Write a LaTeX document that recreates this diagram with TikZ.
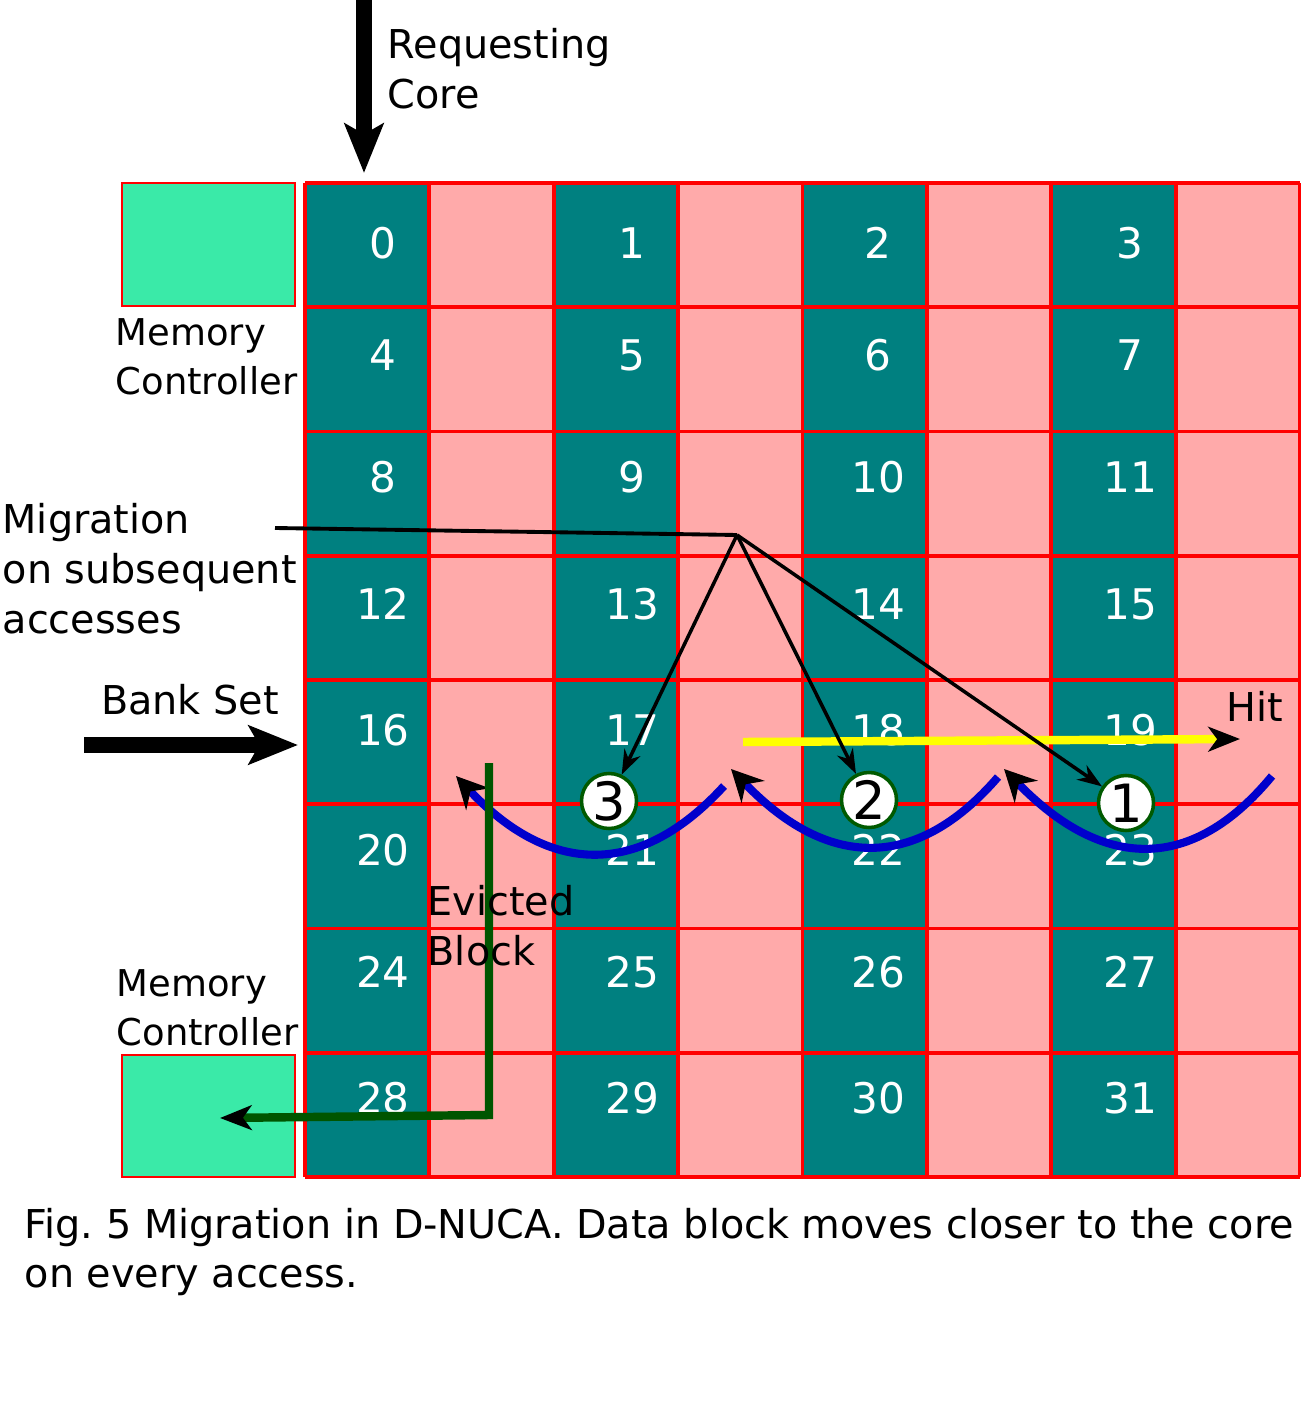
\documentclass[tikz,border=0pt]{standalone}
\usepackage{fontspec}
\setmainfont{DejaVu Sans}
\usepackage{xcolor}
\usepackage{tikz}
\usetikzlibrary{arrows.meta}

\definecolor{bankteal}{HTML}{008080}
\definecolor{bankpink}{HTML}{FFAAAA}
\definecolor{mcgreen}{HTML}{3AEAA8}
\definecolor{evictgreen}{HTML}{005500}
\definecolor{hopblue}{HTML}{0000CC}
\definecolor{hityellow}{HTML}{FFFF00}
\definecolor{ringgreen}{HTML}{005A00}

\tikzset{
  lbl/.style={anchor=west, align=left, inner sep=0pt, font=\fontsize{11.3}{14.2}\selectfont},
  num/.style={text=white, inner sep=0pt, font=\fontsize{12}{14}\selectfont},
  hop/.style={circle, draw=ringgreen, line width=1pt, fill=white, minimum size=0.55cm, inner sep=0pt, font=\fontsize{15}{15}\selectfont},
  gridline/.style={red, line width=1.1pt},
  mcbox/.style={fill=mcgreen, draw=red, line width=0.5pt},
  bigarrow/.style={line width=4.5pt, -{Stealth[length=14pt,width=11pt,inset=3pt]}},
  thinarrow/.style={line width=1pt, -{Stealth[length=7pt,width=5pt]}},
  curvearrow/.style={hopblue, line width=2.3pt, -{Stealth[black,length=9pt,width=9pt,inset=3pt]}}
}

\begin{document}
\frenchspacing
\begin{tikzpicture}[x=0.01cm,y=-0.01cm]
\useasboundingbox (0,0) rectangle (1301,1401);
% Bank columns
\foreach \c in {0,2,4,6}
  \fill[bankteal] ({305+124.375*\c},183) rectangle ({305+124.375*(\c+1)},1177);
\foreach \c in {1,3,5,7}
  \fill[bankpink] ({305+124.375*\c},183) rectangle ({305+124.375*(\c+1)},1177);
\foreach \i in {0,...,8}{
  \draw[gridline] ({305+124.375*\i},183) -- ({305+124.375*\i},1177);
  \draw[gridline] (305,{183+124.25*\i}) -- (1300,{183+124.25*\i});
}
% Bank numbers
\foreach \r/\ly in {0/243,1/355,2/477,3/604,4/730,5/850,6/972,7/1098}
  \foreach \c/\lx in {0/383,1/632,2/878,3/1130}{
    \pgfmathtruncatemacro\n{4*\r+\c}
    \node[num] (b\n) at (\lx,\ly) {\n};
  }
% Memory controllers
\fill[mcbox] (122,183) rectangle (295,306);
\fill[mcbox] (122,1055) rectangle (295,1177);
\draw[red, line width=0.5pt] (122,183) rectangle (295,306);
\draw[red, line width=0.5pt] (122,1055) rectangle (295,1177);
\node[lbl, font=\fontsize{10.5}{13.9}\selectfont] (mctop) at (115,357) {Memory\\Controller};
\node[lbl, font=\fontsize{10.5}{13.9}\selectfont] (mcbot) at (116,1008) {Memory\\Controller};
% Requesting core and bank set
\coordinate (coretail) at (364,0);
\coordinate (corehead) at (364,173);
\draw[bigarrow] (coretail) -- (corehead);
\node[lbl] (core) at (387,69) {Requesting\\Core};
\coordinate (banktail) at (84,745);
\coordinate (bankhead) at (298,745);
\draw[bigarrow] (banktail) -- (bankhead);
\node[font=\fontsize{11.3}{14.2}\selectfont, inner sep=0pt] (bankset) at (190,700) {Bank Set};
% Hit
\coordinate (hitstart) at (743,742);
\coordinate (hitend) at (1240,739);
\draw[hityellow, line width=2.4pt, -{Stealth[black,length=9pt,width=7pt,inset=2.5pt]}] (hitstart) -- (hitend);
\node[font=\fontsize{11.3}{14.2}\selectfont, inner sep=0pt] (hit) at (1255,706) {Hit};
% Migration steps
\node[hop] (h3) at (609,801) {3};
\node[hop] (h2) at (869,800) {2};
\node[hop] (h1) at (1126,803) {1};
\coordinate (migtail) at (275,528);
\coordinate (mig) at (737,535);
\draw[line width=1.1pt] (migtail) -- (mig);
\draw[thinarrow] (mig) -- (h3);
\draw[thinarrow] (mig) -- (h2);
\draw[thinarrow] (mig) -- (h1);
\node[lbl] (miglbl) at (2,569) {Migration\\on subsequent\\accesses};
% Blue hops
\draw[curvearrow] (724,786) .. controls (639,879) and (549,875) .. (456,776);
\draw[curvearrow] (998,777) .. controls (916,872) and (827,869) .. (731,769);
\draw[curvearrow] (1272,776) .. controls (1192,873) and (1103,871) .. (1004,769);
% Evicted block
\coordinate (evtop) at (489,763);
\coordinate (evcorner) at (489,1115);
\coordinate (evend) at (220,1118);
\draw[evictgreen, line width=2.4pt, -{Stealth[black,length=9pt,width=7pt,inset=2.5pt]}] (evtop) -- (evcorner) -- (evend);
\node[lbl] (evlbl) at (427,926) {Evicted\\Block};
% Caption
\node[lbl] (caption) at (24,1252) {Fig. 5 Migration in D-NUCA. Data block moves closer to the core\\on every access.};
\end{tikzpicture}
\end{document}
